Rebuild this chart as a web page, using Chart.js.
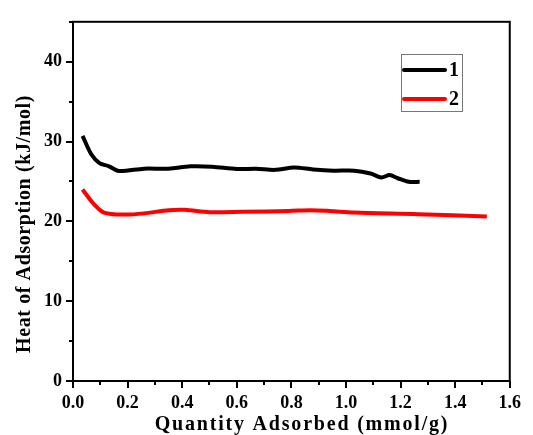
<!DOCTYPE html>
<html><head><meta charset="utf-8">
<script src="https://cdn.jsdelivr.net/npm/chart.js@4"></script>
<style>html,body{margin:0;padding:0;background:#fff}#wrap{width:533px;height:435px}</style>
</head><body><div id="wrap"><canvas id="c"></canvas></div>
<script>
const seriesLabels = ['1', '2'];
const xTitle = 'Quantity Adsorbed (mmol/g)';
const yTitle = 'Heat of Adsorption (kJ/mol)';
const x1 = [0.035,0.067,0.097,0.132,0.168,0.26,0.35,0.43,0.51,0.60,0.67,0.74,0.81,0.88,0.955,1.03,1.09,1.13,1.16,1.19,1.23,1.27];
const y1 = [30.7,28.4,27.3,26.9,26.3,26.6,26.6,26.9,26.85,26.55,26.6,26.45,26.75,26.5,26.35,26.35,26.0,25.5,25.8,25.4,24.95,24.95];
const x2 = [0.035,0.073,0.114,0.19,0.26,0.35,0.41,0.50,0.62,0.79,0.87,0.94,1.03,1.265,1.516];
const y2 = [24.0,22.3,21.1,20.85,21.0,21.4,21.45,21.15,21.2,21.3,21.4,21.3,21.1,20.9,20.6];
const xTicks = [0,0.2,0.4,0.6,0.8,1.0,1.2,1.4,1.6];
const yTicks = [0,10,20,30,40];
const colors = ['#000000','#ff0000'];
const FONT = '"Liberation Serif","Times New Roman",serif';

const pts = (xs, ys) => xs.map((x,i)=>({x, y: ys[i]}));

const frame = {
  id:'frame',
  afterDraw(chart){
    const {ctx, chartArea:a, scales:{x, y}} = chart;
    ctx.save();
    ctx.strokeStyle = '#000'; ctx.lineWidth = 2;
    ctx.strokeRect(a.left, a.top, a.right-a.left, a.bottom-a.top);
    for (let v = 0; v <= 1.6001; v += 0.1) {
      const px = Math.round(x.getPixelForValue(v));
      const major = Math.abs(v*5 - Math.round(v*5)) < 1e-6;
      ctx.beginPath(); ctx.moveTo(px, a.bottom); ctx.lineTo(px, a.bottom + (major?7:4)); ctx.stroke();
    }
    for (let v = 0; v <= 45; v += 5) {
      const py = Math.round(y.getPixelForValue(v));
      const major = v % 10 === 0;
      ctx.beginPath(); ctx.moveTo(a.left, py); ctx.lineTo(a.left - (major?7:4), py); ctx.stroke();
    }
    // axis titles
    ctx.fillStyle = '#000';
    ctx.font = 'bold 20px ' + FONT;
    ctx.textAlign = 'center'; ctx.textBaseline = 'alphabetic';
    ctx.letterSpacing = '1.8px';
    ctx.fillText(xTitle, 302, 430);
    ctx.save();
    ctx.translate(30, 224); ctx.rotate(-Math.PI/2);
    ctx.letterSpacing = '0.6px';
    ctx.fillText(yTitle, 0, 0);
    ctx.restore();
    ctx.letterSpacing = '0px';
    // legend
    const lx = 401, ly = 54, lw = 61, lh = 57;
    ctx.lineWidth = 1; ctx.strokeStyle = '#777';
    ctx.strokeRect(lx+0.5, ly+0.5, lw, lh);
    chart.data.datasets.forEach((ds, i) => {
      const yy = ly + 16 + i*29;
      ctx.strokeStyle = ds.borderColor; ctx.lineWidth = 4; ctx.lineCap='round';
      ctx.beginPath(); ctx.moveTo(lx+3, yy); ctx.lineTo(lx+44, yy); ctx.stroke();
      ctx.fillStyle = '#000'; ctx.font = 'bold 20px ' + FONT;
      ctx.textBaseline = 'middle'; ctx.textAlign = 'left';
      ctx.fillText(ds.label, lx+48, yy+1);
    });
    ctx.restore();
  }
};

new Chart(document.getElementById('c'), {
  type: 'scatter',
  data: { datasets: [
    { label: seriesLabels[0], data: pts(x1,y1), borderColor: colors[0], backgroundColor: colors[0], showLine: true, borderWidth: 4, pointRadius: 0, tension: 0.3 },
    { label: seriesLabels[1], data: pts(x2,y2), borderColor: colors[1], backgroundColor: colors[1], showLine: true, borderWidth: 4, pointRadius: 0, tension: 0.3 }
  ]},
  options: {
    responsive: true, maintainAspectRatio: false, animation: false,
    layout: { padding: { left: 0, top: 14, right: 12, bottom: 0 } },
    plugins: { legend: { display: false }, tooltip: { enabled: false } },
    scales: {
      x: {
        type: 'linear', min: 0, max: 1.6,
        afterBuildTicks: s => { s.ticks = xTicks.map(v => ({value: v})); },
        afterFit: s => { s.height = 54; },
        grid: { display: false, drawTicks: false },
        border: { display: false },
        ticks: { color: '#000', padding: 12, font: { family: FONT, size: 18, weight: 'bold' }, maxRotation: 0, callback: v => v.toFixed(1) },
        title: { display: false }
      },
      y: {
        min: 0, max: 45,
        afterBuildTicks: s => { s.ticks = yTicks.map(v => ({value: v})); },
        afterFit: s => { s.width = 73; },
        grid: { display: false, drawTicks: false },
        border: { display: false },
        ticks: { color: '#000', padding: 11, font: { family: FONT, size: 18, weight: 'bold' } },
        title: { display: false }
      }
    }
  },
  plugins: [frame]
});
</script></body></html>
